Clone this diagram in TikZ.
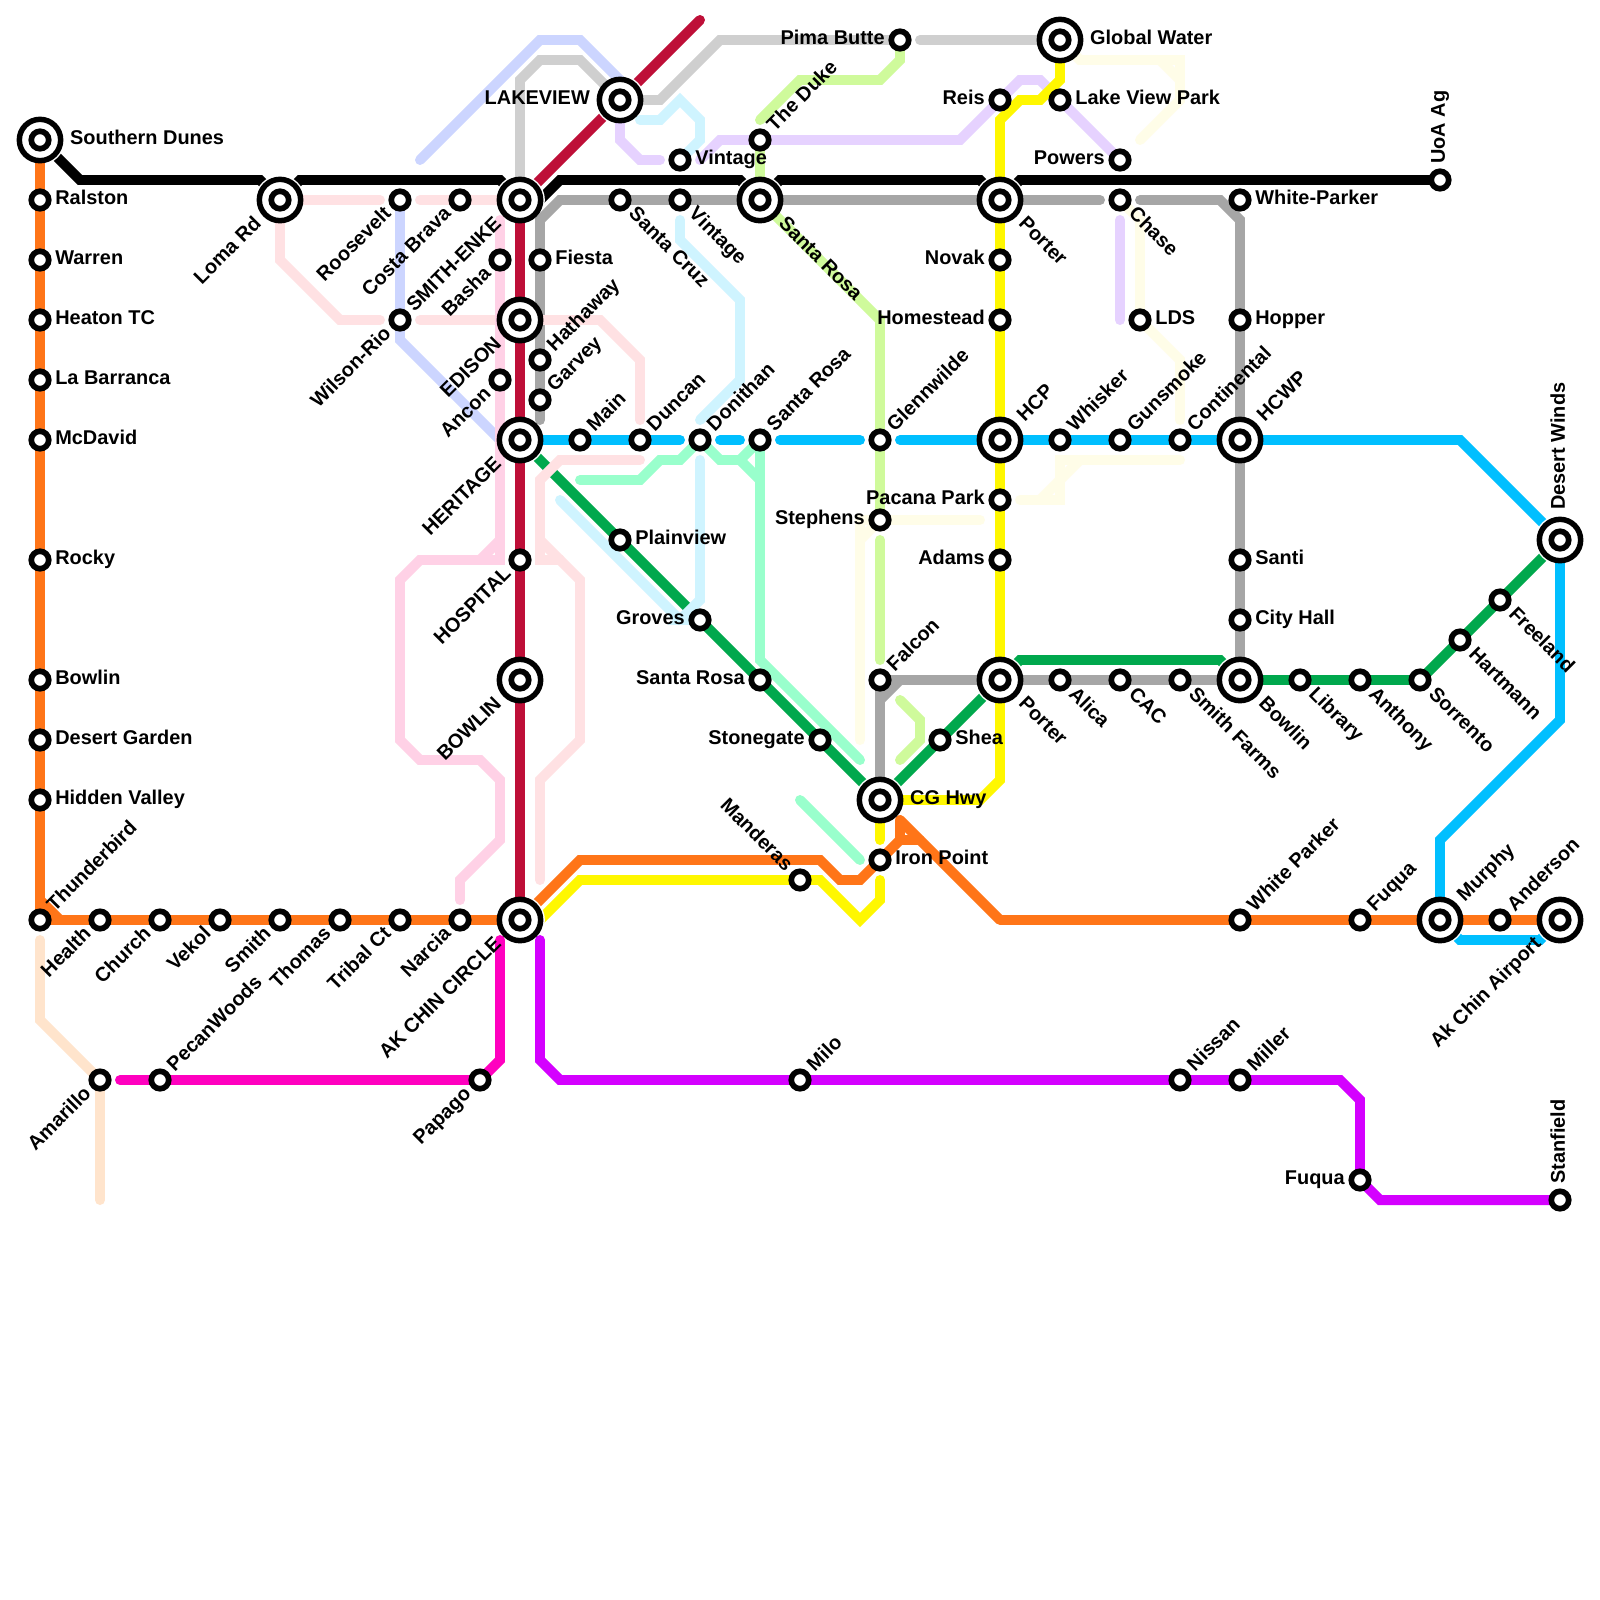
\documentclass[tikz,border=0pt]{standalone}
\usepackage{fontspec}
\setmainfont{Liberation Sans}
\usetikzlibrary{backgrounds}
\definecolor{cOrange}{HTML}{FF7518}
\definecolor{cCrimson}{HTML}{BE0F38}
\definecolor{cGreen}{HTML}{00A84D}
\definecolor{cSky}{HTML}{00BFFF}
\definecolor{cPurple}{HTML}{D400FF}
\definecolor{cMagenta}{HTML}{FF00BF}
\definecolor{cYellow}{HTML}{FFF700}
\definecolor{cGrey}{HTML}{A6A6A6}
\definecolor{cSilver}{HTML}{CFCFCF}
\definecolor{cPeri}{HTML}{CCD5FF}
\definecolor{cRose}{HTML}{FFE1E3}
\definecolor{cPink}{HTML}{FFD1E6}
\definecolor{cIce}{HTML}{CFF4FF}
\definecolor{cLilac}{HTML}{E6D2FF}
\definecolor{cMint}{HTML}{99FFCC}
\definecolor{cCream}{HTML}{FFFDE8}
\definecolor{cLime}{HTML}{CFFA9B}
\definecolor{cPeach}{HTML}{FFE4CC}
\begin{document}
\begin{tikzpicture}[
    x=0.5cm,y=-0.5cm,
    route/.style={line width=7.09pt, line cap=round, line join=miter},
    stopnode/.style={circle, draw=black, fill=white, line width=4.04pt, inner sep=0pt, outer sep=0pt, minimum size=12.4pt},
    hubnode/.style={circle, draw=black, fill=white, line width=3.9pt, inner sep=0pt, outer sep=0pt, minimum size=29.4pt,
        path picture={\draw[black, line width=4.04pt] (path picture bounding box.center) circle (6.2pt);}},
    halo/.style={white},
    lblE/.style={anchor=base west, inner sep=0pt, font=\bfseries\fontsize{14.17pt}{16pt}\selectfont, xshift=#1, yshift=-3.54pt},
    lblE/.default=10.7pt,
    lblW/.style={anchor=base east, inner sep=0pt, font=\bfseries\fontsize{14.17pt}{16pt}\selectfont, xshift=-#1, yshift=-3.54pt},
    lblW/.default=10.7pt,
    lblNE/.style={rotate=45, lblE=#1},
    lblNE/.default=11.34pt,
    lblSE/.style={rotate=-45, lblE=#1},
    lblSE/.default=11.34pt,
    lblSW/.style={rotate=45, lblW=#1},
    lblSW/.default=11.34pt,
    lblNW/.style={rotate=-45, lblW=#1},
    lblNW/.default=11.34pt,
    lblN/.style={rotate=90, lblE=#1},
    lblN/.default=11.34pt
]
\useasboundingbox (0,0) rectangle (80,80);
%
\node[hubnode] (dunes) at (2,7) {};
\node[lblE=21.26pt] (dunesT) at (dunes) {Southern Dunes};
\node[stopnode] (ralston) at (2,10) {};
\node[lblE] (ralstonT) at (ralston) {Ralston};
\node[stopnode] (warren) at (2,13) {};
\node[lblE] (warrenT) at (warren) {Warren};
\node[stopnode] (heaton) at (2,16) {};
\node[lblE] (heatonT) at (heaton) {Heaton TC};
\node[stopnode] (barranca) at (2,19) {};
\node[lblE] (barrancaT) at (barranca) {La Barranca};
\node[stopnode] (mcdavid) at (2,22) {};
\node[lblE] (mcdavidT) at (mcdavid) {McDavid};
\node[stopnode] (rocky) at (2,28) {};
\node[lblE] (rockyT) at (rocky) {Rocky};
\node[stopnode] (bowlinW) at (2,34) {};
\node[lblE] (bowlinWT) at (bowlinW) {Bowlin};
\node[stopnode] (garden) at (2,37) {};
\node[lblE] (gardenT) at (garden) {Desert Garden};
\node[stopnode] (hidden) at (2,40) {};
\node[lblE] (hiddenT) at (hidden) {Hidden Valley};
\node[stopnode] (thunder) at (2,46) {};
\node[lblNE] (thunderT) at (thunder) {Thunderbird};
%
\node[stopnode] (health) at (5,46) {};
\node[lblSW] (healthT) at (health) {Health};
\node[stopnode] (church) at (8,46) {};
\node[lblSW] (churchT) at (church) {Church};
\node[stopnode] (vekol) at (11,46) {};
\node[lblSW] (vekolT) at (vekol) {Vekol};
\node[stopnode] (smith) at (14,46) {};
\node[lblSW] (smithT) at (smith) {Smith};
\node[stopnode] (thomas) at (17,46) {};
\node[lblSW] (thomasT) at (thomas) {Thomas};
\node[stopnode] (tribal) at (20,46) {};
\node[lblSW] (tribalT) at (tribal) {Tribal Ct};
\node[stopnode] (narcia) at (23,46) {};
\node[lblSW] (narciaT) at (narcia) {Narcia};
\node[hubnode] (akchin) at (26,46) {};
\node[lblSW=21.26pt] (akchinT) at (akchin) {AK CHIN CIRCLE};
%
\node[stopnode] (amarillo) at (5,54) {};
\node[lblSW] (amarilloT) at (amarillo) {Amarillo};
\node[stopnode] (pecan) at (8,54) {};
\node[lblNE] (pecanT) at (pecan) {PecanWoods};
\node[stopnode] (papago) at (24,54) {};
\node[lblSW] (papagoT) at (papago) {Papago};
\node[stopnode] (milo) at (40,54) {};
\node[lblNE] (miloT) at (milo) {Milo};
\node[stopnode] (nissan) at (59,54) {};
\node[lblNE] (nissanT) at (nissan) {Nissan};
\node[stopnode] (miller) at (62,54) {};
\node[lblNE] (millerT) at (miller) {Miller};
\node[stopnode] (fuquaS) at (68,59) {};
\node[lblW] (fuquaST) at (fuquaS) {Fuqua};
\node[stopnode] (stanfield) at (78,60) {};
\node[lblN] (stanfieldT) at (stanfield) {Stanfield};
%
\node[hubnode] (loma) at (14,10) {};
\node[lblSW=21.26pt] (lomaT) at (loma) {Loma Rd};
\node[stopnode] (roosevelt) at (20,10) {};
\node[lblSW] (rooseveltT) at (roosevelt) {Roosevelt};
\node[stopnode] (costa) at (23,10) {};
\node[lblSW] (costaT) at (costa) {Costa Brava};
\node[hubnode] (enke) at (26,10) {};
\node[lblSW=21.26pt] (enkeT) at (enke) {SMITH-ENKE};
\node[stopnode] (wilson) at (20,16) {};
\node[lblSW] (wilsonT) at (wilson) {Wilson-Rio};
\node[stopnode] (basha) at (25,13) {};
\node[lblSW] (bashaT) at (basha) {Basha};
\node[stopnode] (fiesta) at (27,13) {};
\node[lblE] (fiestaT) at (fiesta) {Fiesta};
\node[hubnode] (edison) at (26,16) {};
\node[lblSW=21.26pt] (edisonT) at (edison) {EDISON};
\node[stopnode] (ancon) at (25,19) {};
\node[lblSW] (anconT) at (ancon) {Ancon};
\node[stopnode] (hathaway) at (27,18) {};
\node[lblNE] (hathawayT) at (hathaway) {Hathaway};
\node[stopnode] (garvey) at (27,20) {};
\node[lblNE] (garveyT) at (garvey) {Garvey};
\node[hubnode] (heritage) at (26,22) {};
\node[lblSW=21.26pt] (heritageT) at (heritage) {HERITAGE};
\node[stopnode] (hospital) at (26,28) {};
\node[lblSW] (hospitalT) at (hospital) {HOSPITAL};
\node[hubnode] (bowlinC) at (26,34) {};
\node[lblSW=21.26pt] (bowlinCT) at (bowlinC) {BOWLIN};
%
\node[hubnode] (lakeview) at (31,5) {};
\node[lblW=21.26pt] (lakeviewT) at (lakeview) {LAKEVIEW};
\node[stopnode] (cruz) at (31,10) {};
\node[lblSE] (cruzT) at (cruz) {Santa Cruz};
\node[stopnode] (vintageS) at (34,10) {};
\node[lblSE] (vintageST) at (vintageS) {Vintage};
\node[stopnode] (vintageN) at (34,8) {};
\node[lblE] (vintageNT) at (vintageN) {Vintage};
\node[stopnode] (duke) at (38,7) {};
\node[lblNE] (dukeT) at (duke) {The Duke};
\node[hubnode] (rosaN) at (38,10) {};
\node[lblSE=21.26pt] (rosaNT) at (rosaN) {Santa Rosa};
\node[stopnode] (pima) at (45,2) {};
\node[lblW] (pimaT) at (pima) {Pima Butte};
\node[hubnode] (water) at (53,2) {};
\node[lblE=21.26pt] (waterT) at (water) {Global Water};
\node[stopnode] (reis) at (50,5) {};
\node[lblW] (reisT) at (reis) {Reis};
\node[stopnode] (lakepark) at (53,5) {};
\node[lblE] (lakeparkT) at (lakepark) {Lake View Park};
\node[stopnode] (powers) at (56,8) {};
\node[lblW] (powersT) at (powers) {Powers};
\node[hubnode] (porterN) at (50,10) {};
\node[lblSE=21.26pt] (porterNT) at (porterN) {Porter};
\node[stopnode] (chase) at (56,10) {};
\node[lblSE] (chaseT) at (chase) {Chase};
\node[stopnode] (whiteP) at (62,10) {};
\node[lblE] (whitePT) at (whiteP) {White-Parker};
\node[stopnode] (uoa) at (72,9) {};
\node[lblN] (uoaT) at (uoa) {UoA Ag};
\node[stopnode] (novak) at (50,13) {};
\node[lblW] (novakT) at (novak) {Novak};
\node[stopnode] (homestead) at (50,16) {};
\node[lblW] (homesteadT) at (homestead) {Homestead};
\node[stopnode] (lds) at (57,16) {};
\node[lblE] (ldsT) at (lds) {LDS};
\node[stopnode] (hopper) at (62,16) {};
\node[lblE] (hopperT) at (hopper) {Hopper};
%
\node[stopnode] (mainst) at (29,22) {};
\node[lblNE] (mainstT) at (mainst) {Main};
\node[stopnode] (duncan) at (32,22) {};
\node[lblNE] (duncanT) at (duncan) {Duncan};
\node[stopnode] (donithan) at (35,22) {};
\node[lblNE] (donithanT) at (donithan) {Donithan};
\node[stopnode] (rosaM) at (38,22) {};
\node[lblNE] (rosaMT) at (rosaM) {Santa Rosa};
\node[stopnode] (glenn) at (44,22) {};
\node[lblNE] (glennT) at (glenn) {Glennwilde};
\node[hubnode] (hcp) at (50,22) {};
\node[lblNE=21.26pt] (hcpT) at (hcp) {HCP};
\node[stopnode] (whisker) at (53,22) {};
\node[lblNE] (whiskerT) at (whisker) {Whisker};
\node[stopnode] (gunsmoke) at (56,22) {};
\node[lblNE] (gunsmokeT) at (gunsmoke) {Gunsmoke};
\node[stopnode] (contin) at (59,22) {};
\node[lblNE] (continT) at (contin) {Continental};
\node[hubnode] (hcwp) at (62,22) {};
\node[lblNE=21.26pt] (hcwpT) at (hcwp) {HCWP};
\node[hubnode] (winds) at (78,27) {};
\node[lblN=21.26pt] (windsT) at (winds) {Desert Winds};
%
\node[stopnode] (plainview) at (31,27) {};
\node[lblE] (plainviewT) at (plainview) {Plainview};
\node[stopnode] (groves) at (35,31) {};
\node[lblW] (grovesT) at (groves) {Groves};
\node[stopnode] (rosaS) at (38,34) {};
\node[lblW] (rosaST) at (rosaS) {Santa Rosa};
\node[stopnode] (stonegate) at (41,37) {};
\node[lblW] (stonegateT) at (stonegate) {Stonegate};
\node[stopnode] (stephens) at (44,26) {};
\node[lblW] (stephensT) at (stephens) {Stephens};
\node[stopnode] (pacana) at (50,25) {};
\node[lblW] (pacanaT) at (pacana) {Pacana Park};
\node[stopnode] (adams) at (50,28) {};
\node[lblW] (adamsT) at (adams) {Adams};
\node[stopnode] (santi) at (62,28) {};
\node[lblE] (santiT) at (santi) {Santi};
\node[stopnode] (cityhall) at (62,31) {};
\node[lblE] (cityhallT) at (cityhall) {City Hall};
%
\node[stopnode] (falcon) at (44,34) {};
\node[lblNE] (falconT) at (falcon) {Falcon};
\node[hubnode] (porterS) at (50,34) {};
\node[lblSE=21.26pt] (porterST) at (porterS) {Porter};
\node[stopnode] (alica) at (53,34) {};
\node[lblSE] (alicaT) at (alica) {Alica};
\node[stopnode] (cac) at (56,34) {};
\node[lblSE] (cacT) at (cac) {CAC};
\node[stopnode] (farms) at (59,34) {};
\node[lblSE] (farmsT) at (farms) {Smith Farms};
\node[hubnode] (bowlinE) at (62,34) {};
\node[lblSE=21.26pt] (bowlinET) at (bowlinE) {Bowlin};
\node[stopnode] (library) at (65,34) {};
\node[lblSE] (libraryT) at (library) {Library};
\node[stopnode] (anthony) at (68,34) {};
\node[lblSE] (anthonyT) at (anthony) {Anthony};
\node[stopnode] (sorrento) at (71,34) {};
\node[lblSE] (sorrentoT) at (sorrento) {Sorrento};
\node[stopnode] (hartmann) at (73,32) {};
\node[lblSE] (hartmannT) at (hartmann) {Hartmann};
\node[stopnode] (freeland) at (75,30) {};
\node[lblSE] (freelandT) at (freeland) {Freeland};
\node[stopnode] (shea) at (47,37) {};
\node[lblE] (sheaT) at (shea) {Shea};
\node[hubnode] (cghwy) at (44,40) {};
\node[lblE=21.26pt] (cghwyT) at (cghwy) {CG Hwy};
\node[stopnode] (iron) at (44,43) {};
\node[lblE] (ironT) at (iron) {Iron Point};
\node[stopnode] (manderas) at (40,44) {};
\node[lblNW] (manderasT) at (manderas) {Manderas};
\node[stopnode] (whitePk) at (62,46) {};
\node[lblNE] (whitePkT) at (whitePk) {White Parker};
\node[stopnode] (fuquaE) at (68,46) {};
\node[lblNE] (fuquaET) at (fuquaE) {Fuqua};
\node[hubnode] (murphy) at (72,46) {};
\node[lblNE=21.26pt] (murphyT) at (murphy) {Murphy};
\node[stopnode] (anderson) at (75,46) {};
\node[lblNE] (andersonT) at (anderson) {Anderson};
\node[hubnode] (airport) at (78,46) {};
\node[lblSW=21.26pt] (airportT) at (airport) {Ak Chin Airport};
%
\begin{scope}[on background layer]
\fill[white] (0,0) rectangle (80,80);
%
\coordinate (skyEndF) at (45,22);
\coordinate (yellowEndA) at (27,46);
\coordinate (yellowEndB) at (44,44);
\coordinate (crimsonEnd) at (35,1);
\draw[route, draw=black] (dunes.center) -- (4,9) -- (13,9) -- (loma.center) -- (15,9) -- (25,9) -- (enke.center) -- (27,10) -- (28,9) -- (37,9) -- (rosaN.center) -- (39,9) -- (49,9) -- (porterN.center) -- (51,9) -- (uoa.center);
\draw[route, draw=cCrimson] (enke.center) -- (crimsonEnd);
\draw[route, draw=cGreen] (heritage.center) -- (cghwy.center) -- (porterS.center) -- (51,33) -- (61,33) -- (bowlinE.center);
\draw[route, draw=cGreen] (sorrento.center) -- (winds.center);
\draw[route, draw=cSky] (skyEndF) -- (73,22) -- (winds.center);
\draw[route, draw=cSky] (murphy.center) -- (73,47) -- (77,47) -- (airport.center);
\draw[route, draw=cOrange] (akchin.center) -- (29,43) -- (41,43) -- (42,44) -- (43,44) -- (45,42) -- (46,42);
\draw[route, draw=cYellow] (yellowEndA) -- (29,44) -- (41,44) -- (43,46) -- (44,45) -- (yellowEndB);
\fill[halo] (dunes) circle (17.7pt);
\fill[halo] (loma) circle (17.7pt);
\fill[halo] (enke) circle (17.7pt);
\fill[halo] (lakeview) circle (17.7pt);
\fill[halo] (rosaN) circle (17.7pt);
\fill[halo] (porterN) circle (17.7pt);
\fill[halo] (heritage) circle (17.7pt);
\fill[halo] (cghwy) circle (17.7pt);
\fill[halo] (porterS) circle (17.7pt);
\fill[halo] (bowlinE) circle (17.7pt);
\fill[halo] (winds) circle (17.7pt);
\fill[halo] (murphy) circle (17.7pt);
\fill[halo] (airport) circle (17.7pt);
\fill[halo] (akchin) circle (17.7pt);
%
\coordinate (greyEndA) at (27,21);
\coordinate (greyEndB) at (55,10);
\coordinate (greyEndC) at (57,10);
\draw[route, draw=cGrey] (greyEndA) -- (27,11) -- (28,10) -- (greyEndB);
\draw[route, draw=cGrey] (greyEndC) -- (61,10) -- (62,11) -- (bowlinE.center);
\draw[route, draw=cGrey] (cghwy.center) -- (falcon.center) -- (bowlinE.center);
\draw[route, draw=cGrey] (44,35) -- (45,34);
%
\coordinate (silverEnd) at (46,2);
\draw[route, draw=cSilver] (enke.center) -- (26,4) -- (27,3) -- (29,3) -- (lakeview.center) -- (33,5) -- (36,2) -- (pima.center);
\draw[route, draw=cSilver] (silverEnd) -- (water.center);
%
\draw[route, draw=cGreen] (bowlinE.center) -- (sorrento.center);
%
\coordinate (periEnd) at (21,8);
\draw[route, draw=cPeri] (periEnd) -- (27,2) -- (29,2) -- (31,4) -- (lakeview.center);
\draw[route, draw=cPeri] (roosevelt.center) -- (20,17) -- (25,22) -- (heritage.center);
%
\coordinate (roseEndA) at (19,10);
\coordinate (roseEndB) at (19,16);
\coordinate (roseEndC) at (21,10);
\coordinate (roseEndD) at (21,16);
\coordinate (roseEndE) at (32,21);
\coordinate (roseEndF) at (32,23);
\coordinate (roseEndG) at (27,44);
\draw[route, draw=cRose] (roseEndA) -- (loma.center) -- (14,13) -- (17,16) -- (roseEndB);
\draw[route, draw=cRose] (roseEndC) -- (enke.center);
\draw[route, draw=cRose] (roseEndD) -- (30,16) -- (32,18) -- (roseEndE);
\draw[route, draw=cRose] (roseEndF) -- (28,23) -- (27,24) -- (27,28) -- (28,28) -- (29,29) -- (29,37) -- (27,39) -- (roseEndG);
\draw[route, draw=cRose] (27,27) -- (28,28);
%
\coordinate (pinkEndA) at (25,11);
\coordinate (pinkEndB) at (23,45);
\draw[route, draw=cPink] (pinkEndA) -- (25,28) -- (21,28) -- (20,29) -- (20,37) -- (21,38) -- (24,38) -- (25,39) -- (25,42) -- (23,44) -- (pinkEndB);
\draw[route, draw=cPink] (25,27) -- (24,28);
%
\coordinate (iceEndA) at (32,6);
\coordinate (iceEndB) at (34,11);
\coordinate (iceEndC) at (35,21);
\coordinate (iceEndD) at (35,23);
\coordinate (iceEndE) at (28,25);
\draw[route, draw=cIce] (iceEndA) -- (33,6) -- (34,5) -- (35,6) -- (35,7) -- (vintageN.center);
\draw[route, draw=cIce] (iceEndB) -- (34,12) -- (37,15) -- (37,19) -- (iceEndC);
\draw[route, draw=cIce] (iceEndD) -- (35,30) -- (34,31) -- (groves.center);
\draw[route, draw=cIce] (iceEndE) -- (34,31);
%
\coordinate (lilacEndA) at (33,8);
\coordinate (lilacEndB) at (35,8);
\coordinate (lilacEndC) at (56,11);
\coordinate (lilacEndD) at (56,16);
\draw[route, draw=cLilac] (lakeview.center) -- (31,7) -- (32,8) -- (lilacEndA);
\draw[route, draw=cLilac] (lilacEndB) -- (36,7) -- (48,7) -- (51,4) -- (52,4) -- (powers.center);
\draw[route, draw=cLilac] (lilacEndC) -- (lilacEndD);
%
\coordinate (creamEndA) at (57,7);
\coordinate (creamEndB) at (59,21);
\coordinate (creamEndC) at (59,23);
\coordinate (creamEndD) at (51,25);
\coordinate (creamEndE) at (49,26);
\coordinate (creamEndF) at (43,37);
\draw[route, draw=cCream] (water.center) -- (54,3) -- (59,3) -- (59,5) -- (creamEndA);
\draw[route, draw=cCream] (58,3) -- (59,4);
\draw[route, draw=cCream] (chase.center) -- (57,11) -- (lds.center) -- (59,18) -- (creamEndB);
\draw[route, draw=cCream] (creamEndC) -- (53,23) -- (53,25) -- (creamEndD);
\draw[route, draw=cCream] (54,23) -- (52,25);
\draw[route, draw=cCream] (creamEndE) -- (43,26) -- (creamEndF);
\draw[route, draw=cCream] (stephens.center) -- (43,27);
%
\coordinate (limeEndA) at (38,6);
\coordinate (limeEndB) at (44,27);
\coordinate (limeEndC) at (44,33);
\coordinate (limeEndD) at (45,35);
\coordinate (limeEndE) at (45,38);
\draw[route, draw=cLime] (pima.center) -- (45,3) -- (44,4) -- (40,4) -- (limeEndA);
\draw[route, draw=cLime] (duke.center) -- (rosaN.center) -- (44,16) -- (stephens.center);
\draw[route, draw=cLime] (limeEndB) -- (limeEndC);
\draw[route, draw=cLime] (limeEndD) -- (46,36) -- (46,37) -- (limeEndE);
%
\coordinate (mintEndA) at (29,24);
\coordinate (mintEndB) at (43,38);
\coordinate (mintEndC) at (40,40);
\coordinate (mintEndD) at (43,43);
\draw[route, draw=cMint] (mintEndA) -- (32,24) -- (33,23) -- (34,23) -- (donithan.center) -- (36,23) -- (37,23) -- (rosaM.center) -- (38,33) -- (mintEndB);
\draw[route, draw=cMint] (37,23) -- (38,24);
\draw[route, draw=cMint] (mintEndC) -- (mintEndD);
%
\coordinate (skyEndA) at (34,22);
\coordinate (skyEndB) at (36,22);
\coordinate (skyEndC) at (37,22);
\coordinate (skyEndD) at (39,22);
\coordinate (skyEndE) at (43,22);
\draw[route, draw=cSky] (heritage.center) -- (skyEndA);
\draw[route, draw=cSky] (skyEndB) -- (skyEndC);
\draw[route, draw=cSky] (skyEndD) -- (skyEndE);
\draw[route, draw=cSky] (winds.center) -- (78,36) -- (72,42) -- (murphy.center);
%
\coordinate (purpleEnd) at (27,47);
\draw[route, draw=cPurple] (purpleEnd) -- (27,53) -- (28,54) -- (67,54) -- (68,55) -- (fuquaS.center) -- (69,60) -- (stanfield.center);
%
\coordinate (magentaEndA) at (6,54);
\coordinate (magentaEndB) at (25,47);
\draw[route, draw=cMagenta] (magentaEndA) -- (papago.center) -- (25,53) -- (magentaEndB);
%
\coordinate (peachEndA) at (2,47);
\coordinate (peachEndB) at (5,60);
\draw[route, draw=cPeach] (peachEndA) -- (2,51) -- (amarillo.center) -- (peachEndB);
%
\coordinate (yellowEndC) at (44,42);
\draw[route, draw=cYellow] (yellowEndC) -- (cghwy.center) -- (49,40) -- (50,39) -- (50,6) -- (51,5) -- (52,5) -- (53,4) -- (water.center);
%
\draw[route, draw=cOrange] (dunes.center) -- (thunder.center) -- (3,46) -- (akchin.center);
\draw[route, draw=cOrange] (2,45) -- (3,46);
\draw[route, draw=cOrange, line join=round] (45,42) -- (45,41) -- (50,46) -- (airport.center);
%
\draw[route, draw=cCrimson] (akchin.center) -- (enke.center);
\end{scope}
\end{tikzpicture}
\end{document}
